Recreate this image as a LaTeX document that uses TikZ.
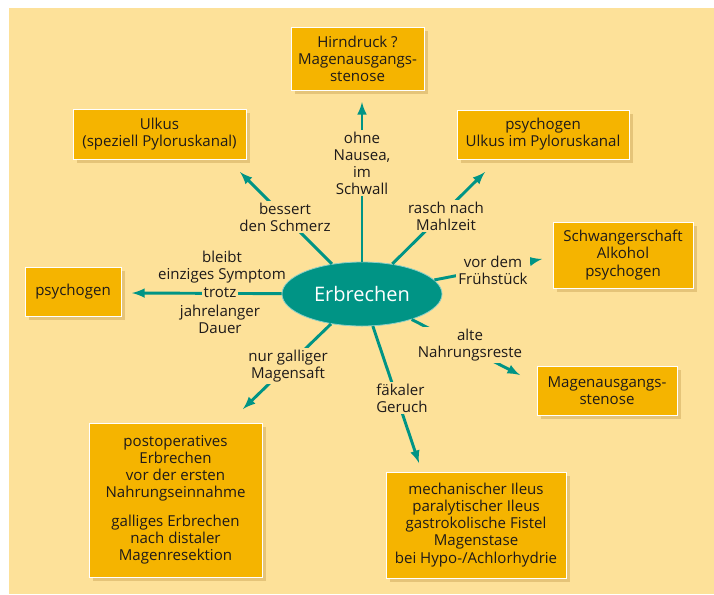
\documentclass[tikz,border=0pt]{standalone}
\usepackage{fontspec}
\setmainfont{Open Sans}
\usetikzlibrary{arrows,shapes,positioning,shadows}

\definecolor{cream}{RGB}{253,225,153}
\definecolor{boxorange}{RGB}{245,180,0}
\definecolor{erbteal}{RGB}{0,148,133}
\definecolor{shadowtan}{RGB}{214,178,100}
\definecolor{inktext}{RGB}{30,26,26}

\begin{document}
\begin{tikzpicture}
        [
            x=0.75pt, y=-0.75pt,
            box/.style={rectangle, fill=boxorange, draw=white, line width=0.6pt, align=center, inner sep=2pt, text=inktext,
                font=\fontsize{11.3}{12.8}\selectfont,
                drop shadow={shadow xshift=3pt, shadow yshift=-3pt, fill=shadowtan, opacity=0.6}},
            hint/.style={fill=cream, inner sep=1.5pt, align=center, text=inktext, font=\fontsize{11.3}{12.8}\selectfont},
            arrow/.style={-latex, line width=2.2pt, draw=erbteal},
        ]
            % background
            \fill[white] (0,0) rectangle (714,594);
            \fill[cream] (9,8) rectangle (714,594);

            % outcome boxes
            \node[box, minimum width=99.75pt, minimum height=47.25pt] (hirn) at (357.5,58.5) {Hirndruck ?\\Magenausgangs-\\stenose};
            \node[box, minimum width=129.75pt, minimum height=37.5pt] (ulkus) at (159.5,134) {Ulkus\\(speziell Pyloruskanal)};
            \node[box, minimum width=129pt, minimum height=36.75pt] (psyulk) at (543,134.5) {psychogen\\Ulkus im Pyloruskanal};
            \node[box, minimum width=105pt, minimum height=49.5pt] (schwanger) at (623,255) {Schwangerschaft\\Alkohol\\psychogen};
            \node[box, minimum width=72pt, minimum height=36.75pt] (psy) at (73,291.5) {psychogen};
            \node[box, minimum width=105pt, minimum height=36.75pt] (stenose) at (607,390.5) {Magenausgangs-\\stenose};
            \node[box, minimum width=129.75pt, minimum height=115.5pt] (postop) at (175.5,500) {postoperatives\\Erbrechen\\vor der ersten\\Nahrungseinnahme\\[9pt]galliges Erbrechen\\nach distaler\\Magenresektion};
            \node[box, minimum width=135pt, minimum height=79.5pt] (ileus) at (476,525) {mechanischer Ileus\\paralytischer Ileus\\gastrokolische Fistel\\Magenstase\\bei Hypo-/Achlorhydrie};

            % centre
            \node[ellipse, fill=erbteal, draw=white!55!erbteal, line width=0.6pt, minimum width=120pt, minimum height=48pt, text=white,
                font=\fontsize{15}{18}\selectfont] (erb) at (362,294) {Erbrechen};

            % arrow ends
            \coordinate (tUp) at (362,102);
            \coordinate (tUlkus) at (240,172);
            \coordinate (tPsy) at (132,293);
            \coordinate (tPostop) at (243,409);
            \coordinate (tIleus) at (419,463);
            \coordinate (tStenose) at (520,375);
            \coordinate (tSchwanger) at (542,259);
            \coordinate (tPsyUlk) at (485,172);

            \draw[arrow] (erb) -- (tUp);
            \draw[arrow] (erb) -- (tUlkus);
            \draw[arrow] (erb) -- (tPsy);
            \draw[arrow] (erb) -- (tPostop);
            \draw[arrow] (erb) -- (tIleus);
            \draw[arrow] (erb) -- (tStenose);
            \draw[arrow] (erb) -- (tSchwanger);
            \draw[arrow] (erb) -- (tPsyUlk);

            % conditions on the arrows
            \node[hint] (ohne) at (362,163) {ohne\\Nausea,\\im\\Schwall};
            \node[hint] (bessert) at (285,217) {bessert\\den Schmerz};
            \node[hint, fill=none] (bleibt) at (222,267) {bleibt\\einziges Symptom};
            \node[hint] (trotz) at (220,293) {trotz};
            \node[hint, fill=none] (dauer) at (220,319) {jahrelanger\\Dauer};
            \node[hint] (gallig) at (288,366) {nur galliger\\Magensaft};
            \node[hint, anchor=west, align=left] (faekal) at (374,398) {fäkaler\\Geruch};
            \node[hint] (reste) at (470,345) {alte\\Nahrungsreste};
            \node[hint] (fruehst) at (493,270) {vor dem\\Frühstück};
            \node[hint] (rasch) at (446,216) {rasch nach\\Mahlzeit};
        \end{tikzpicture}
\end{document}
